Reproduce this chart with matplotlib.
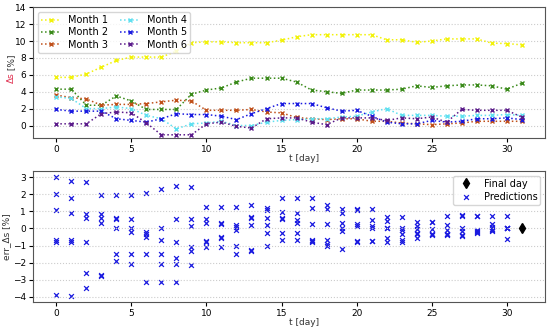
import numpy as np
import matplotlib
matplotlib.use("Agg")
import matplotlib.pyplot as plt

days = list(range(32))

month1 = [5.7, 5.7, 6.1, 6.9, 7.7, 8.1, 8.1, 8.1, 8.8, 9.8, 9.9, 9.9, 9.8, 9.8, 9.8, 10.1,
          10.5, 10.75, 10.75, 10.75, 10.75, 10.75, 10.15, 10.15, 9.85, 10.0, 10.25, 10.25, 10.25, 9.75, 9.7, 9.55]
month2 = [4.3, 4.3, 2.4, 2.4, 3.5, 2.9, 1.9, 1.9, 1.9, 3.7, 4.2, 4.45, 5.15, 5.6, 5.6, 5.6,
          5.15, 4.2, 4.0, 3.8, 4.2, 4.2, 4.2, 4.3, 4.7, 4.5, 4.7, 4.8, 4.8, 4.7, 4.3, 5.0]
month3 = [3.6, 3.3, 3.15, 2.4, 2.5, 2.5, 2.6, 2.8, 3.0, 2.9, 1.8, 1.8, 1.8, 1.9, 1.6, 1.5,
          0.95, 0.8, 0.7, 0.8, 0.8, 0.5, 0.5, 0.3, 0.2, 0.1, 0.2, 0.3, 0.5, 0.5, 0.5, 0.5]
month4 = [3.4, 3.2, 2.0, 2.0, 2.2, 2.0, 1.2, 0.8, -0.4, 0.2, 0.3, 0.5, 0.0, 0.0, 0.4, 0.6,
          0.7, 0.8, 0.8, 1.0, 1.1, 1.6, 2.0, 1.2, 1.2, 1.2, 1.1, 1.1, 1.2, 1.2, 1.3, 1.2]
month5 = [1.9, 1.7, 1.7, 1.7, 0.8, 0.6, 0.4, 0.8, 1.4, 1.3, 1.3, 1.1, 0.7, 1.4, 2.0, 2.6,
          2.6, 2.6, 2.1, 1.7, 1.8, 1.1, 0.4, 0.2, 0.2, 0.6, 0.4, 0.5, 0.8, 0.8, 0.9, 0.7]
month6 = [0.2, 0.2, 0.2, 1.4, 1.6, 1.5, 0.3, -1.1, -1.1, -1.1, 0.2, 0.4, -0.1, -0.3, 0.8, 0.9,
          0.9, 0.4, 0.1, 0.9, 0.9, 0.9, 0.6, 0.9, 0.8, 1.0, 0.4, 1.9, 1.8, 1.8, 1.8, 1.0]

month_labels = ["Month 1", "Month 2", "Month 3", "Month 4", "Month 5", "Month 6"]
month_colors = ["#f2f20a", "#3a8a1a", "#c0501a", "#5fe0f0", "#1a1ae0", "#5a1a8a"]

pred_days = list(range(31))
pred_values = [
    [3.0, 2.0, 1.1, -0.7, -0.8, -3.9],
    [2.75, 1.75, 0.9, -0.7, -0.8, -3.95],
    [2.7, 0.85, 0.6, -0.8, -2.6, -3.5],
    [1.95, 0.85, 0.6, 0.3, -2.7, -2.75],
    [1.95, 0.6, 0.55, 0.0, -1.5, -1.9],
    [1.95, 0.55, 0.05, -0.2, -1.5, -2.05],
    [2.05, -0.2, -0.35, -0.5, -1.5, -3.1],
    [2.3, 0.0, -0.7, -1.5, -2.1, -3.1],
    [2.5, 0.55, -0.8, -1.7, -2.1, -3.1],
    [2.4, 0.55, 0.15, -1.1, -1.3, -2.15],
    [1.25, 0.55, 0.3, -0.75, -0.8, -1.1],
    [1.25, 0.3, 0.25, -0.5, -0.55, -1.1],
    [1.25, 0.2, 0.1, -0.1, -1.0, -1.5],
    [1.35, 0.65, 0.6, 0.2, -1.25, -1.3],
    [1.2, 1.1, 0.6, 0.2, -0.25, -1.05],
    [1.8, 0.95, 0.6, 0.55, -0.25, -0.7],
    [1.8, 0.9, 0.5, 0.3, -0.25, -0.65],
    [1.8, 1.2, 0.25, -0.65, -0.75, -0.8],
    [1.35, 1.15, 0.25, -0.65, -0.9, -1.0],
    [1.15, 0.9, 0.3, 0.0, -0.15, -1.2],
    [1.15, 1.05, 0.25, 0.15, -0.75, -0.8],
    [1.15, 0.5, 0.15, 0.05, -0.75, -0.75],
    [0.65, 0.45, 0.05, 0.0, -0.55, -0.8],
    [0.65, 0.0, -0.1, -0.35, -0.65, -0.8],
    [0.35, 0.15, -0.05, -0.25, -0.35, -0.55],
    [0.4, 0.35, -0.05, -0.3, -0.4, -0.35],
    [0.7, 0.2, -0.1, -0.35, -0.4, -0.35],
    [0.8, 0.75, 0.0, -0.15, -0.4, -0.45],
    [0.7, 0.7, -0.1, -0.15, -0.25, -0.2],
    [0.75, 0.25, 0.1, -0.05, -0.15, -0.1],
    [0.75, 0.05, 0.0, -0.6, 0.0, 0.05],
]
final_day = [31]
final_value = [0.0]

plt.rcParams['font.size'] = 6.5
fig = plt.figure(figsize=(5.5, 3.29), dpi=100)
ax1 = fig.add_axes([0.06, 0.58, 0.931, 0.398])
ax2 = fig.add_axes([0.06, 0.082, 0.931, 0.398])

series = [month1, month2, month3, month4, month5, month6]
for vals, lab, col in zip(series, month_labels, month_colors):
    ax1.plot(days, vals, linestyle=':', marker='x', color=col, label=lab,
             markersize=3.5, linewidth=1.1)
ax1.set_ylim(-1.5, 14)
ax1.set_yticks(range(0, 15, 2))
ax1.grid(axis='y', linestyle=':', color='#cccccc', linewidth=0.8)
ax1.text(0.5, -0.12, "t [day]", transform=ax1.transAxes, ha='left', va='top',
         color='#333333')
ax1.text(-0.042, 0.5, "Δs", color='#e03050', rotation=90, transform=ax1.transAxes,
         ha='center', va='top')
ax1.text(-0.042, 0.5, " [%]", color='#333333', rotation=90, transform=ax1.transAxes,
         ha='center', va='bottom')
ax1.legend(ncol=2, loc='upper left', fontsize=7, handlelength=2.0,
           borderpad=0.3, labelspacing=0.25, columnspacing=1.2, handletextpad=0.8)

xs = []
ys = []
for d, vals in zip(pred_days, pred_values):
    for v in vals:
        xs.append(d)
        ys.append(v)
ax2.plot(final_day, final_value, linestyle='none', marker='d', color='black',
         markersize=5, label="Final day")
ax2.scatter(xs, ys, marker='x', color='#1a1ae0', s=12, linewidths=0.9, label="Predictions")
ax2.set_yticks(range(-4, 4))
ax2.grid(axis='y', linestyle=':', color='#cccccc', linewidth=0.8)
ax2.text(0.5, -0.12, "t [day]", transform=ax2.transAxes, ha='left', va='top',
         color='#333333')
ax2.set_ylabel("err_Δs [%]", color='#333333')
ax2.yaxis.set_label_coords(-0.043, 0.5)
ax2.legend(loc='upper right', fontsize=7, borderpad=0.3, labelspacing=0.3)

for ax in (ax1, ax2):
    ax.set_xticks(range(0, 31, 5))
    ax.tick_params(length=3, pad=2)
    for s in ax.spines.values():
        s.set_color('#555555')

fig.savefig("out.png", dpi=100)
